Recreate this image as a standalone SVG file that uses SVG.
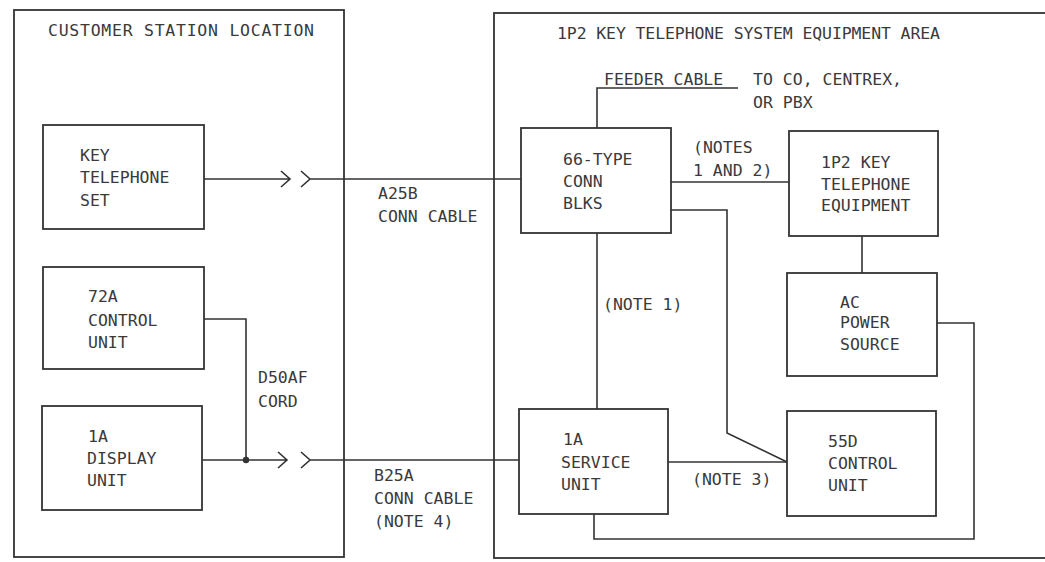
<svg xmlns="http://www.w3.org/2000/svg" width="1045" height="562" viewBox="0 0 1045 562">
<style>
.box{fill:none;stroke:#333;stroke-width:1.8}
.ln{fill:none;stroke:#333;stroke-width:1.6}
text{font-family:"DejaVu Sans Mono","Liberation Mono",monospace;font-size:16.5px;fill:#3a3a3a}
</style>
<rect width="1045" height="562" fill="#fff"/>
<g id="customer-area">
<rect class="box" x="14" y="10" width="330" height="547"/>
<text x="48" y="36" textLength="266" lengthAdjust="spacing">CUSTOMER STATION LOCATION</text>
</g>
<g id="equipment-area">
<rect class="box" x="494" y="13" width="560" height="545"/>
<text x="557" y="39" textLength="383" lengthAdjust="spacing">1P2 KEY TELEPHONE SYSTEM EQUIPMENT AREA</text>
</g>
<g id="key-telephone-set">
<rect class="box" x="43" y="125" width="161" height="104"/>
<text x="80" y="161">KEY</text>
<text x="80" y="183">TELEPHONE</text>
<text x="80" y="206">SET</text>
</g>
<g id="control-unit-72a">
<rect class="box" x="43" y="267" width="161" height="102"/>
<text x="88" y="302">72A</text>
<text x="88" y="326">CONTROL</text>
<text x="88" y="348">UNIT</text>
</g>
<g id="display-unit-1a">
<rect class="box" x="42" y="406" width="160" height="104"/>
<text x="88" y="442">1A</text>
<text x="87" y="464">DISPLAY</text>
<text x="87" y="486">UNIT</text>
</g>
<g id="conn-blks-66">
<rect class="box" x="521" y="128" width="150" height="105"/>
<text x="563" y="165">66-TYPE</text>
<text x="563" y="187">CONN</text>
<text x="563" y="209">BLKS</text>
</g>
<g id="key-equipment-1p2">
<rect class="box" x="789" y="131" width="149" height="105"/>
<text x="821" y="168">1P2 KEY</text>
<text x="821" y="190">TELEPHONE</text>
<text x="821" y="211">EQUIPMENT</text>
</g>
<g id="ac-power-source">
<rect class="box" x="787" y="273" width="150" height="103"/>
<text x="840" y="308">AC</text>
<text x="840" y="328">POWER</text>
<text x="840" y="350">SOURCE</text>
</g>
<g id="service-unit-1a">
<rect class="box" x="519" y="409" width="149" height="105"/>
<text x="563" y="445">1A</text>
<text x="561" y="468">SERVICE</text>
<text x="561" y="490">UNIT</text>
</g>
<g id="control-unit-55d">
<rect class="box" x="787" y="411" width="149" height="105"/>
<text x="828" y="447">55D</text>
<text x="828" y="469">CONTROL</text>
<text x="828" y="491">UNIT</text>
</g>
<g id="connectors">
<path class="ln" d="M204,179 H290 M281,171 L290,179 L281,187 M301,171 L310,179 L301,187 M310,179 H521"/>
<path class="ln" d="M202,460 H287 M278,452 L287,460 L278,468 M301,452 L310,460 L301,468 M310,460 H519"/>
<path class="ln" d="M204,319 H246 V460"/>
<circle cx="246" cy="460" r="3.2" fill="#333"/>
<path class="ln" d="M597,128 V88 H738"/>
<path class="ln" d="M671,182 H789"/>
<path class="ln" d="M862,236 V273"/>
<path class="ln" d="M671,210 H727 V433 L787,462"/>
<path class="ln" d="M597,233 V409"/>
<path class="ln" d="M668,462 H787"/>
<path class="ln" d="M937,323 H974 V539 H594 V514"/>
</g>
<g id="labels">
<text x="378" y="199">A25B</text>
<text x="378" y="222">CONN CABLE</text>
<text x="258" y="383">D50AF</text>
<text x="258" y="407">CORD</text>
<text x="374" y="481">B25A</text>
<text x="374" y="504">CONN CABLE</text>
<text x="374" y="527">(NOTE 4)</text>
<text x="604" y="85">FEEDER CABLE</text>
<text x="753" y="85">TO CO, CENTREX,</text>
<text x="753" y="108">OR PBX</text>
<text x="693" y="153">(NOTES</text>
<text x="693" y="176">1 AND 2)</text>
<text x="603" y="310">(NOTE 1)</text>
<text x="692" y="485">(NOTE 3)</text>
</g>
</svg>
